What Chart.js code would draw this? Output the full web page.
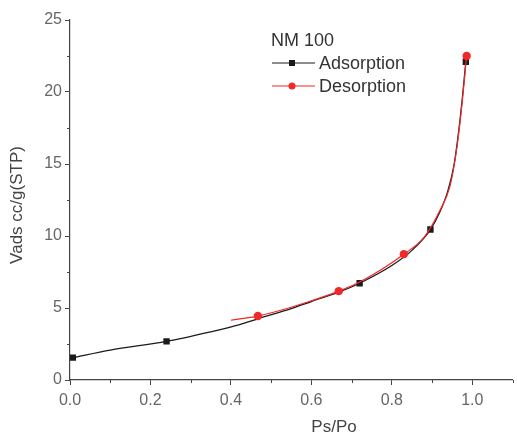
<!DOCTYPE html>
<html>
<head>
<meta charset="utf-8">
<script src="https://cdn.jsdelivr.net/npm/chart.js@4/dist/chart.umd.min.js"></script>
<style>
html,body{margin:0;padding:0;background:#fff;}
#wrap{width:517px;height:434px;position:relative;}
</style>
</head>
<body>
<div id="wrap"><canvas id="c" width="517" height="434"></canvas></div>
<script>
// ---- data ----
const seriesNames = ["Adsorption", "Desorption"];
const legendTitle = "NM 100";
const adsX = [0.007, 0.10, 0.24, 0.35, 0.422, 0.467, 0.55, 0.60, 0.668, 0.72, 0.80, 0.85, 0.896, 0.92, 0.94, 0.955, 0.965, 0.975, 0.984];
const adsY = [1.55, 2.08, 2.68, 3.35, 3.85, 4.25, 4.95, 5.45, 6.10, 6.72, 7.95, 9.00, 10.45, 11.7, 13.2, 15.0, 17.0, 19.5, 22.1];
const adsMarked = [0.007, 0.24, 0.72, 0.896, 0.984];
const desX = [0.40, 0.467, 0.55, 0.60, 0.668, 0.72, 0.83, 0.88, 0.92, 0.945, 0.96, 0.972, 0.986];
const desY = [4.15, 4.44, 5.05, 5.50, 6.17, 6.80, 8.74, 9.90, 11.8, 13.5, 15.8, 18.5, 22.5];
const desMarked = [0.467, 0.668, 0.83, 0.986];
const xTicks = [0, 0.2, 0.4, 0.6, 0.8, 1.0];
const xMinor = [0.1, 0.3, 0.5, 0.7, 0.9, 1.1];
const yTicks = [0, 5, 10, 15, 20, 25];
const yMinor = [2.5, 7.5, 12.5, 17.5, 22.5];
const xTitle = "Ps/Po";
const yTitle = "Vads cc/g(STP)";

const FONT = "'Liberation Sans', Arial, sans-serif";
const AXIS = "#444";
const LABEL = "#666";
const TEXT = "#444";
const BLACK = "#1a1a1a";
const RED = "rgb(240,40,40)";

const toPts = (xs, ys) => xs.map((x, i) => ({x: x, y: ys[i]}));
const radii = (xs, marked, r) => xs.map(x => marked.includes(x) ? r : 0);

const minorTicks = {
  id: 'minorTicks',
  afterDraw(chart) {
    const ctx = chart.ctx, xs = chart.scales.x, ys = chart.scales.y;
    ctx.save();
    ctx.strokeStyle = AXIS; ctx.lineWidth = 1;
    ctx.beginPath();
    xMinor.forEach(v => { const p = Math.round(xs.getPixelForValue(v)) + 0.5; ctx.moveTo(p, ys.bottom); ctx.lineTo(p, ys.bottom + 3); });
    yMinor.forEach(v => { const p = Math.round(ys.getPixelForValue(v)) + 0.5; ctx.moveTo(xs.left, p); ctx.lineTo(xs.left - 3, p); });
    ctx.stroke();
    ctx.restore();
  }
};

const axisTitles = {
  id: 'axisTitles',
  afterDraw(chart) {
    const ctx = chart.ctx;
    ctx.save();
    ctx.fillStyle = TEXT;
    ctx.font = "17px " + FONT;
    ctx.textAlign = "center";
    ctx.textBaseline = "middle";
    ctx.fillText(xTitle, 334, 427);
    ctx.translate(17, 205);
    ctx.rotate(-Math.PI / 2);
    ctx.fillText(yTitle, 0, 0);
    ctx.restore();
  }
};

const customLegend = {
  id: 'customLegend',
  afterDraw(chart) {
    const ctx = chart.ctx;
    ctx.save();
    ctx.fillStyle = "#333";
    ctx.font = "18px " + FONT;
    ctx.textBaseline = "middle";
    ctx.textAlign = "left";
    ctx.fillText(legendTitle, 271, 41);
    const rows = [{y: 63, ds: chart.data.datasets[0]}, {y: 86, ds: chart.data.datasets[1]}];
    rows.forEach(r => {
      ctx.strokeStyle = r.ds.borderColor; ctx.lineWidth = 1.2;
      ctx.beginPath(); ctx.moveTo(272, r.y); ctx.lineTo(315, r.y); ctx.stroke();
      ctx.fillStyle = r.ds.pointBackgroundColor;
      if (r.ds.pointStyle === 'rect') { ctx.fillRect(289, r.y - 3, 6, 6); }
      else { ctx.beginPath(); ctx.arc(292, r.y, 3.5, 0, Math.PI * 2); ctx.fill(); }
      ctx.fillStyle = "#333";
      ctx.fillText(r.ds.label, 319, r.y + 1);
    });
    ctx.restore();
  }
};

new Chart(document.getElementById('c'), {
  type: 'scatter',
  data: {
    datasets: [
      {
        label: seriesNames[0], data: toPts(adsX, adsY), showLine: true,
        borderColor: BLACK, borderWidth: 1.3, cubicInterpolationMode: 'monotone',
        pointStyle: 'rect', pointRadius: radii(adsX, adsMarked, 4.5), pointHoverRadius: 0,
        pointBackgroundColor: BLACK, pointBorderColor: BLACK, pointBorderWidth: 0, order: 2
      },
      {
        label: seriesNames[1], data: toPts(desX, desY), showLine: true,
        borderColor: RED, borderWidth: 1.2, cubicInterpolationMode: 'monotone',
        pointStyle: 'circle', pointRadius: radii(desX, desMarked, 4.2), pointHoverRadius: 0,
        pointBackgroundColor: RED, pointBorderColor: RED, pointBorderWidth: 0, order: 1
      }
    ]
  },
  options: {
    responsive: false, animation: false, devicePixelRatio: 1,
    layout: {padding: {left: 0, right: 3, top: 20, bottom: 0}},
    plugins: {legend: {display: false}, tooltip: {enabled: false}},
    scales: {
      x: {
        type: 'linear', min: 0, max: 1.1,
        afterBuildTicks: s => { s.ticks = xTicks.map(v => ({value: v})); },
        afterFit: s => { s.height = 54; },
        border: {display: true, color: AXIS, width: 1.2},
        grid: {display: true, drawOnChartArea: false, drawTicks: true, tickLength: 5, tickColor: AXIS},
        ticks: {color: LABEL, font: {family: FONT, size: 16}, padding: 6, maxRotation: 0,
                callback: v => v.toFixed(1)},
        title: {display: false}
      },
      y: {
        type: 'linear', min: 0, max: 25,
        afterBuildTicks: s => { s.ticks = yTicks.map(v => ({value: v})); },
        afterFit: s => { s.width = 70; },
        border: {display: true, color: AXIS, width: 1.2},
        grid: {display: true, drawOnChartArea: false, drawTicks: true, tickLength: 5, tickColor: AXIS},
        ticks: {color: LABEL, font: {family: FONT, size: 16}, padding: 3},
        title: {display: false}
      }
    }
  },
  plugins: [minorTicks, axisTitles, customLegend]
});
</script>
</body>
</html>
